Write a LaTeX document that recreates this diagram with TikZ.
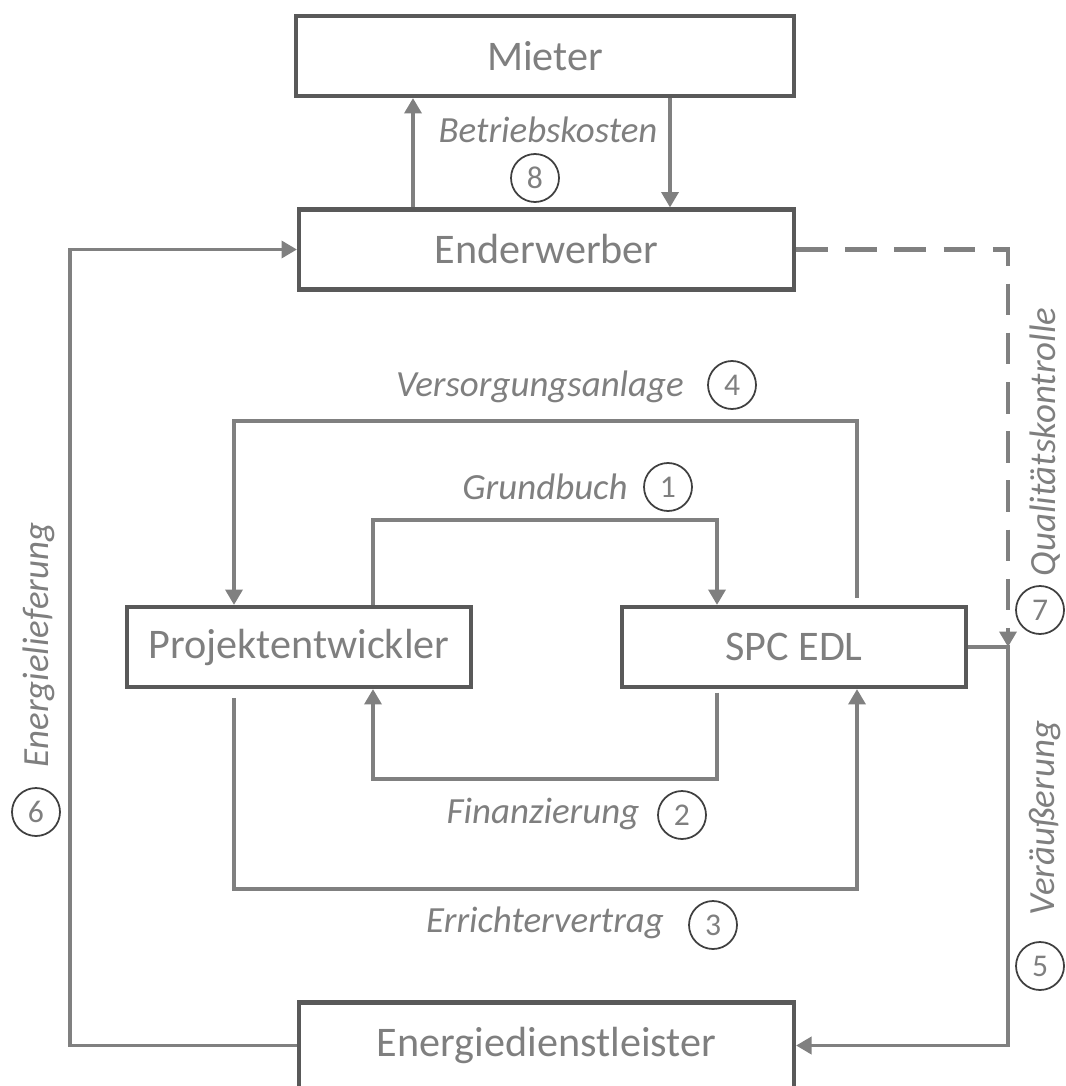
\documentclass[tikz,border=0pt]{standalone}
\usepackage{fontspec}
\setmainfont{Carlito}
\usetikzlibrary{arrows.meta}
\definecolor{boxline}{HTML}{595959}
\definecolor{flowgray}{HTML}{808080}
\definecolor{txtgray}{HTML}{7F7F7F}
\definecolor{ringline}{HTML}{404040}

\begin{document}
\begin{tikzpicture}[
  box/.style={draw=boxline, line width=1.15pt, minimum height=0.80cm, inner sep=0pt,
    text=txtgray, font=\fontsize{12}{14}\selectfont},
  flow/.style={draw=flowgray, line width=1.1pt, -{Triangle[length=4.4pt,width=4.8pt]}},
  lbl/.style={text=txtgray, inner sep=0pt, font=\fontsize{10.5}{12}\selectfont\itshape},
  num/.style={circle, draw=ringline, line width=0.5pt, minimum size=0.48cm, inner sep=0pt,
    text=txtgray, font=\fontsize{9}{10}\selectfont}
]
  \useasboundingbox (0,0) rectangle (10.66,-10.86);

  % Boxes
  \node[box, minimum width=4.98cm] (mieter) at (5.45,-0.56) {Mieter};
  \node[box, minimum width=4.95cm] (enderwerber) at (5.465,-2.495) {Enderwerber};
  \node[box, minimum width=3.44cm] (projekt) at (2.99,-6.47) {Projektentwickler};
  \node[box, minimum width=3.44cm] (spc) at (7.94,-6.47) {SPC EDL};
  \node[box, minimum width=4.95cm, minimum height=0.86cm] (energie) at (5.465,-10.455) {Energiedienstleister};

  % Lanes and levels of the connectors
  \coordinate (laneA) at (4.13,0);
  \coordinate (laneB) at (6.70,0);
  \coordinate (laneL) at (0.70,0);
  \coordinate (laneR) at (10.08,0);
  \coordinate (laneP1) at (2.34,0);
  \coordinate (laneP2) at (3.73,0);
  \coordinate (laneS1) at (7.17,0);
  \coordinate (laneS2) at (8.57,0);
  \coordinate (lvVers) at (0,-4.21);
  \coordinate (lvGrund) at (0,-5.20);
  \coordinate (lvFin) at (0,-7.79);
  \coordinate (lvErr) at (0,-8.89);

  % Betriebskosten
  \draw[flow] (laneA |- enderwerber.north) -- (laneA |- mieter.south);
  \draw[flow] (laneB |- mieter.south) -- (laneB |- enderwerber.north);
  \node[lbl] (betrieb) at (5.48,-1.30) {Betriebskosten};
  \node[num] (n8) at (5.35,-1.78) {8};

  % Versorgungsanlage
  \draw[flow, shorten <=2pt] (laneS2 |- spc.north) -- (laneS2 |- lvVers)
    -- (laneP1 |- lvVers) -- (laneP1 |- projekt.north);
  \node[lbl] (versorg) at (5.40,-3.87) {Versorgungsanlage};
  \node[num] (n4) at (7.32,-3.85) {4};

  % Grundbuch
  \draw[flow] (laneP2 |- projekt.north) -- (laneP2 |- lvGrund)
    -- (laneS1 |- lvGrund) -- (laneS1 |- spc.north);
  \node[lbl] (grund) at (5.45,-4.87) {Grundbuch};
  \node[num] (n1) at (6.68,-4.87) {1};

  % Finanzierung
  \draw[flow, shorten <=1pt] (laneS1 |- spc.south) -- (laneS1 |- lvFin)
    -- (laneP2 |- lvFin) -- (laneP2 |- projekt.south);
  \node[lbl] (finanz) at (5.43,-8.14) {Finanzierung};
  \node[num] (n2) at (6.82,-8.15) {2};

  % Errichtervertrag
  \draw[flow, shorten <=2.5pt] (laneP1 |- projekt.south) -- (laneP1 |- lvErr)
    -- (laneS2 |- lvErr) -- (laneS2 |- spc.south);
  \node[lbl] (errichter) at (5.45,-9.23) {Errichtervertrag};
  \node[num] (n3) at (7.13,-9.25) {3};

  % Energielieferung
  \draw[flow] (energie.west) -- (laneL |- energie.west)
    -- (laneL |- enderwerber.west) -- (enderwerber.west);
  \node[lbl, rotate=90] (energiel) at (0.39,-6.45) {Energielieferung};
  \node[num] (n6) at (0.36,-8.12) {6};

  % Qualitaetskontrolle
  \draw[flow, line width=1.4pt, dash pattern=on 9pt off 5pt] (enderwerber.east)
    -- (laneR |- enderwerber.east) -- (laneR |- spc.east);
  \node[lbl, rotate=90] (quali) at (10.45,-4.42) {Qualitätskontrolle};
  \node[num] (n7) at (10.40,-6.10) {7};

  % Veraeusserung
  \draw[flow] (spc.east) -- (laneR |- spc.east)
    -- (laneR |- energie.east) -- (energie.east);
  \node[lbl, rotate=90] (veraeu) at (10.45,-8.18) {Veräußerung};
  \node[num] (n5) at (10.40,-9.66) {5};
\end{tikzpicture}
\end{document}
